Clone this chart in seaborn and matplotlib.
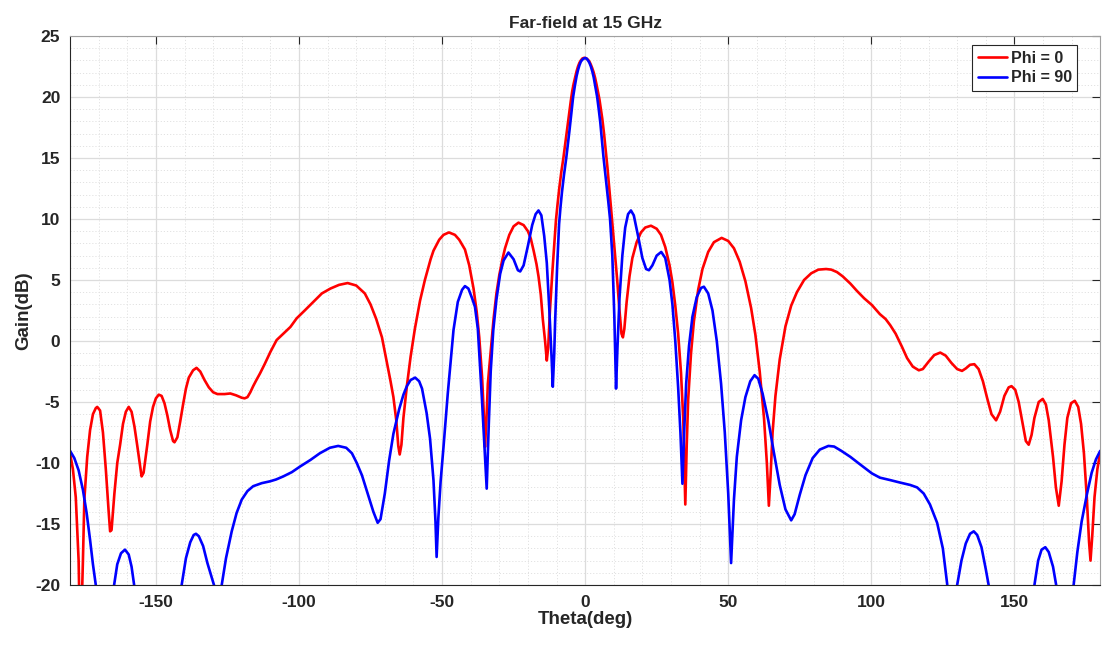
import numpy as np
import pandas as pd
import matplotlib
matplotlib.use("Agg")
import matplotlib.pyplot as plt
from matplotlib.ticker import MultipleLocator
import seaborn as sns

# ---------------- data ----------------
theta_phi0 = [
    -180, -179, -178, -177, -176.4, -175.5, -175, -174, -173, -172, -171, -170.5,
    -169.5, -168.5, -167.5, -166.5, -166, -165.5, -164.5, -163.5, -162.5, -161.5,
    -160.5, -159.5, -158.5, -157.5, -156.5, -155.5, -155, -154.3, -153, -152, -151,
    -150, -149, -148, -147, -146, -145, -144, -143.5, -142.5, -141.5, -140.5,
    -139.5, -138.5, -137, -135.8, -134.5, -133, -131.5, -130, -128.5, -126, -124,
    -122, -120, -119, -118, -117, -116, -115, -113.6, -112, -110, -107.8, -105,
    -103, -100.8, -98, -95, -92, -89, -86, -83, -80, -77, -75, -73, -71, -69.5,
    -68, -67, -66, -65.3, -64.8, -64.2, -63.5, -62.3, -61, -59.5, -57.7, -56, -54,
    -53, -51, -49.5, -47.6, -45.5, -44, -42, -40.5, -39, -37.9, -37, -36, -35.5,
    -35, -34.5, -34, -33, -32, -31, -30, -29, -28, -26.5, -25, -23.3, -21.5, -20,
    -19, -18, -17, -16.3, -15.5, -14.8, -14, -13.4, -12.9, -12.3, -11.5, -11,
    -10.2, -9.6, -9, -8.3, -7.6, -7, -6.5, -5.8, -5, -4.5, -4, -3.5, -3, -2.5, -2,
    -1.5, -1, -0.5, 0, 0.5, 1, 1.5, 2, 2.5, 3, 3.5, 4, 4.5, 5, 5.5, 6, 6.6, 7.2,
    7.8, 8.3, 8.8, 9.3, 10.3, 11.2, 12, 12.7, 13.2, 13.7, 14.5, 15.5, 16.5, 18,
    19.5, 21, 23, 25, 26.5, 28, 29.5, 30.5, 31.5, 32.5, 33.5, 34.3, 35, 35.5, 36,
    37, 38, 39.5, 41, 43, 45, 47.7, 50, 52, 54, 56, 58, 59.5, 61, 62.5, 63.5, 64.2,
    64.8, 65.5, 66.5, 68, 70, 72, 74, 76.5, 79, 81.5, 84.2, 86, 88, 90, 92.7, 95,
    97.5, 100.2, 103, 105, 106.6, 108.5, 110.7, 112.5, 114.5, 116.6, 118, 120, 122,
    124.1, 126, 128, 130, 131.7, 133, 134.5, 136, 137.5, 139, 140.5, 142, 143.6,
    145, 146.5, 148, 149, 150.3, 151.5, 153, 154, 155, 156, 157, 158.5, 159.9, 161,
    162, 163.5, 164.5, 165.5, 166.5, 167.5, 168.5, 169.8, 171.1, 172.3, 173.3,
    174.3, 175.3, 176.1, 176.6, 177.2, 178, 179, 180,
]
gain_phi0 = [
    -9.2, -10.5, -12.8, -18, -26, -18, -13, -9.5, -7.3, -6.0, -5.5, -5.4,
    -5.7, -7.5, -10.5, -14, -15.6, -15.5, -12.5, -10, -8.5, -6.8,
    -5.8, -5.4, -5.8, -7, -8.6, -10.3, -11.1, -10.8, -8.5, -6.6, -5.4,
    -4.7, -4.4, -4.5, -5.1, -6.1, -7.3, -8.2, -8.3, -7.9, -6.6, -5.2,
    -3.9, -3.0, -2.4, -2.2, -2.5, -3.2, -3.8, -4.2, -4.35, -4.35, -4.3,
    -4.45, -4.65, -4.7, -4.6, -4.2, -3.7, -3.25, -2.65, -1.9, -0.9, 0.08, 0.7,
    1.15, 1.86, 2.5, 3.2, 3.9, 4.3, 4.6, 4.75, 4.55, 3.9, 3.0, 1.8, 0.3, -1.5,
    -3.3, -4.6, -6.5, -8.6, -9.3, -8.5, -6.3, -3.7, -1.3, 1.0, 3.3, 5.0, 6.7,
    7.4, 8.3, 8.7, 8.9, 8.7, 8.3, 7.5, 6.2, 4.3, 2.4, 0.3, -3.0, -5.5,
    -8.7, -6.5, -3.5, -0.8, 1.8, 3.9, 5.4, 6.6, 7.6, 8.7, 9.4, 9.7, 9.5, 9.0,
    8.4, 7.4, 6.3, 5.3, 3.8, 1.8, 0.0, -1.6, -0.5, 2.5, 5.5, 7.2,
    9.9, 11.3, 12.6, 13.9, 15.0, 16.1, 17.0, 18.3, 19.7, 20.5, 21.1, 21.6, 22.1, 22.5, 22.8,
    23.0, 23.15, 23.2, 23.2, 23.15, 23.05, 22.9, 22.65, 22.35, 22.0, 21.55, 21.0, 20.4, 19.8, 19.0, 18.2, 17.0, 15.6,
    14.2, 12.9, 11.6, 10.2, 7.5, 5.0, 2.5, 0.6, 0.3, 1.0, 3.2, 5.3, 6.8, 8.1,
    8.9, 9.3, 9.45, 9.2, 8.7, 7.7, 6.2, 4.8, 2.9, 0.6, -2.6, -6.5, -13.4, -8.5, -4.8,
    -1.0, 1.6, 4.2, 5.9, 7.3, 8.1, 8.45, 8.2, 7.6, 6.5, 4.9, 2.7, 0.5, -2.5, -6.3, -10.0, -13.5,
    -11.0, -7.5, -4.5, -1.5, 1.2, 2.9, 4.0, 5.0, 5.55, 5.85, 5.9, 5.85, 5.65, 5.3, 4.7, 4.1,
    3.5, 2.95, 2.2, 1.8, 1.3, 0.6, -0.47, -1.4, -2.1, -2.4, -2.3, -1.7, -1.15,
    -0.95, -1.2, -1.8, -2.3, -2.45, -2.25, -1.95, -1.9, -2.3, -3.3, -4.7, -6.0, -6.5,
    -5.8, -4.5, -3.8, -3.7, -4.0, -5.0, -6.9, -8.2, -8.5, -7.7, -6.3, -5.0, -4.75, -5.2,
    -6.5, -9.5, -12.0, -13.5, -11.5, -8.5, -6.3, -5.1, -4.9, -5.4, -6.8,
    -9.2, -12.8, -16.5, -18.0, -16.0, -12.8, -10.5, -9.1,
]

theta_phi90 = [
    -180, -178.5, -177, -175.5, -174.2, -173, -172, -171, -169.5, -168, -166,
    -164.6, -163.5, -162.2, -160.8, -159.5, -158.5, -157.6, -155, -152, -148, -144,
    -141, -139.5, -138, -136.8, -136, -135, -133.5, -132, -129.7, -128.3, -127.0,
    -125.5, -123.5, -121.8, -120, -118, -116, -113, -110.1, -108, -105.5, -102.5,
    -99.7, -96, -92.7, -89.2, -86.3, -83.5, -81.5, -79.8, -78, -76, -74, -72.5,
    -71.5, -70, -68.5, -67, -65, -63.5, -62.3, -61, -59.4, -58, -57, -55.4, -54.2,
    -53, -52.3, -51.9, -51.3, -50.5, -49.5, -48, -46, -44.5, -43, -42, -40.8, -39.5,
    -38.5, -37.5, -36.1, -35.2, -34.4, -33.7, -33, -32.1, -31, -29.7, -28.5, -26.8,
    -25, -23.5, -22.7, -21.5, -20, -18.5, -17.3, -16.3, -15.3, -14.3, -13.4, -12.5,
    -11.7, -11.3, -10.8, -10.5, -9.8, -9.1, -8.6, -8.1, -7.4, -6.6, -6, -5.5, -4.8,
    -4.2, -3.6, -3, -2.5, -2, -1.5, -1, -0.5, 0, 0.5, 1, 1.5, 2, 2.5, 3, 3.6, 4.2,
    4.8, 5.3, 5.9, 6.4, 7, 7.5, 8.1, 8.7, 9.5, 10.2, 10.8, 11.3, 12, 13, 14, 15, 16,
    17, 18.5, 20, 21.3, 22.3, 23.5, 25, 26.6, 28, 29.5, 30.5, 31.5, 32.5, 33.3, 34,
    34.6, 35.3, 36.3, 37.5, 39, 40.5, 41.5, 43, 44.5, 46, 47.5, 48.8, 50, 51, 52,
    53, 54.5, 56, 57.7, 59.2, 60.5, 62, 64, 66, 68, 70, 72, 73.2, 75, 77, 79.5, 82,
    85, 87, 89.5, 92.7, 96, 100.2, 103, 106.6, 110, 113.6, 116, 118.3, 120.5, 123,
    125, 126.5, 128, 129.5, 130, 131.5, 133, 134.5, 135.8, 137, 138.5, 140, 141,
    143, 147, 151, 154, 157, 158.3, 159.5, 160.8, 162, 163.5, 164.6, 166.5, 168.5,
    170.7, 172, 173.5, 175.4, 177, 178.5, 180,
]
gain_phi90 = [
    -9.0, -9.6, -10.6, -12.2, -14.1, -16.3, -18.3, -20.0, -23, -25, -23,
    -20.0, -18.3, -17.4, -17.1, -17.5, -18.5, -20.0, -25, -28, -28, -25,
    -20.0, -17.8, -16.5, -15.9, -15.8, -16.0, -16.8, -18.2, -20.0, -22, -20.0,
    -17.8, -15.6, -14.1, -13.0, -12.3, -11.9, -11.65, -11.5, -11.35, -11.1, -10.75,
    -10.3, -9.75, -9.2, -8.75, -8.6, -8.75, -9.2, -10.0, -11.0, -12.5, -14.0, -14.9,
    -14.6, -12.5, -9.8, -7.6, -5.6, -4.4, -3.7, -3.2, -3.0, -3.3, -3.9, -5.9, -8.0,
    -11.4, -14.8, -17.7, -14.5, -11.5, -8.7, -4.3, 0.9, 3.2, 4.2, 4.5, 4.3, 3.5,
    2.8, 1.0, -4.6, -8.5, -12.1, -7.0, -2.5, 0.9, 3.4, 5.5, 6.6, 7.25,
    6.7, 5.8, 5.7, 6.2, 7.8, 9.5, 10.4, 10.7, 10.3, 8.6, 6.4, 2.5,
    -1.5, -3.75, -1.0, 1.5, 6.0, 9.6, 11.0, 12.2, 13.6, 15.0, 16.2, 17.2, 18.7,
    20.0, 20.9, 21.7, 22.2, 22.6, 22.9, 23.05, 23.15, 23.2, 23.15, 23.0, 22.8, 22.5, 22.1, 21.6, 20.8, 20.0,
    18.9, 17.9, 16.4, 15.1, 13.8, 12.7, 11.4, 10.0, 7.0, 2.0, -3.9, -0.5, 3.5, 7.0, 9.3, 10.4, 10.7,
    10.3, 8.6, 6.8, 5.9, 5.8, 6.2, 7.0, 7.3, 6.8, 5.0, 3.0, 0.0, -3.8, -7.5, -11.7,
    -7.5, -3.5, -0.4, 2.0, 3.6, 4.35, 4.45, 3.9, 2.5, 0.0, -3.5, -7.5, -12.5, -18.2, -13.0,
    -9.5, -6.5, -4.6, -3.3, -2.8, -3.1, -4.3, -6.5, -9.2, -11.8, -13.8, -14.7, -14.2, -12.6, -11.0, -9.6, -8.9,
    -8.6, -8.65, -9.0, -9.5, -10.1, -10.85, -11.2, -11.4, -11.6, -11.8, -12.0, -12.5, -13.4, -14.9,
    -17.0, -19.9, -24, -22, -20.0, -18.0, -16.6, -15.8, -15.6, -15.9, -16.9, -18.7, -20.0,
    -24, -27, -26, -23, -20.0, -18.0, -17.1, -16.9, -17.3, -18.5, -20.0, -24, -24,
    -20.0, -17.3, -14.8, -12.5, -10.8, -9.7, -9.0,
]

series_names = ["Phi = 0", "Phi = 90"]
title_text = "Far-field at 15 GHz"
xlabel_text = "Theta(deg)"
ylabel_text = "Gain(dB)"
x_ticks = [-150, -100, -50, 0, 50, 100, 150]
y_ticks = [-20, -15, -10, -5, 0, 5, 10, 15, 20, 25]

df = pd.concat([
    pd.DataFrame({"theta": theta_phi0, "gain": gain_phi0, "series": series_names[0]}),
    pd.DataFrame({"theta": theta_phi90, "gain": gain_phi90, "series": series_names[1]}),
], ignore_index=True)

# ---------------- styling ----------------
sns.set_theme(style="white")
plt.rcParams["font.family"] = ["Liberation Sans", "DejaVu Sans"]
plt.rcParams["font.weight"] = "bold"
plt.rcParams["axes.unicode_minus"] = False

fig = plt.figure(figsize=(11.03, 6.45), dpi=100)
ax = fig.add_axes([0.0635, 0.093, 0.934, 0.8512])

sns.lineplot(data=df, x="theta", y="gain", hue="series", sort=False,
             estimator=None, palette={series_names[0]: "#ff0000", series_names[1]: "#0000ff"},
             linewidth=1.9, ax=ax)

ax.set_xlim(-180, 180)
ax.set_ylim(-20, 25)
ax.set_xticks(x_ticks)
ax.set_yticks(y_ticks)
ax.xaxis.set_minor_locator(MultipleLocator(10))
ax.yaxis.set_minor_locator(MultipleLocator(1))

ax.grid(which="major", color="#dcdcdc", linestyle="-", linewidth=0.9)
ax.grid(which="minor", color="#e2e2e2", linestyle=(0, (1.2, 2.0)), linewidth=0.7)
ax.set_axisbelow(True)

for s in ax.spines.values():
    s.set_visible(True)
    s.set_color("#262626")
    s.set_linewidth(0.8)
ax.spines["top"].set_color("#a0a0a0")
ax.spines["right"].set_color("#a0a0a0")

ax.tick_params(which="major", direction="in", length=6, width=0.8, color="#262626",
               top=True, right=True, labelsize=12.5, pad=7, labelcolor="#262626")
ax.tick_params(which="minor", length=0, top=True, right=True)
for lab in ax.get_xticklabels() + ax.get_yticklabels():
    lab.set_fontweight("bold")

ax.set_xlabel(xlabel_text, fontsize=13.5, fontweight="bold", labelpad=1, color="#262626")
ax.set_ylabel(ylabel_text, fontsize=13.5, fontweight="bold", labelpad=2, color="#262626")
ax.set_title(title_text, fontsize=12.5, fontweight="bold", pad=6, color="#262626")

leg = ax.legend(loc="upper right", bbox_to_anchor=(0.9777, 0.9836), frameon=True,
                fancybox=False, edgecolor="#262626", framealpha=1, fontsize=11.5,
                handlelength=1.8, handletextpad=0.25, borderpad=0.35, labelspacing=0.3,
                borderaxespad=0.0)
leg.get_frame().set_linewidth(0.8)
for t in leg.get_texts():
    t.set_fontweight("bold")

fig.savefig("out.png", dpi=100)
